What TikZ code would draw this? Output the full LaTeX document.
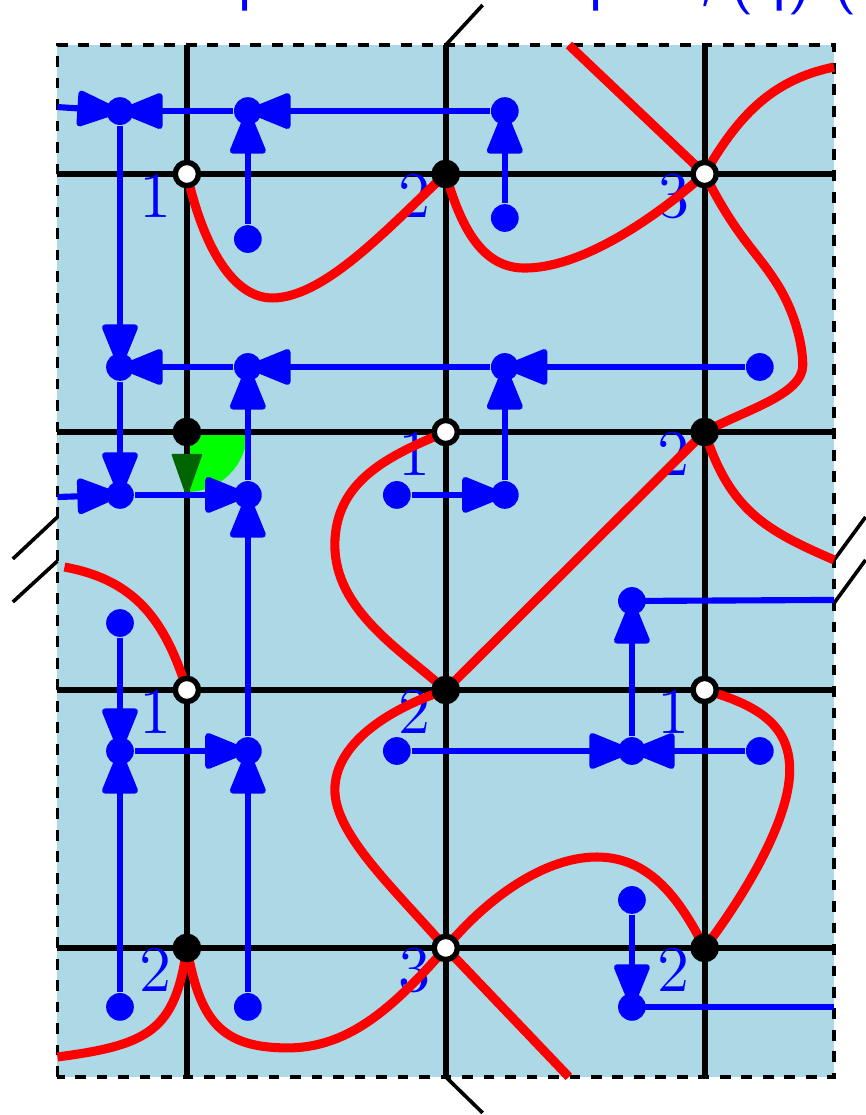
\documentclass[tikz,border=0pt]{standalone}
\usetikzlibrary{arrows.meta}
\definecolor{paneblue}{HTML}{ADD8E6}
\definecolor{darkgreen}{HTML}{006400}
\pgfdeclarelayer{bg}
\pgfsetlayers{bg,main}
\tikzset{
  critmin/.style={circle,draw=black,fill=black,line width=1.2pt,inner sep=0pt,minimum size=0.18cm},
  critsad/.style={circle,draw=black,fill=white,line width=1.2pt,inner sep=0pt,minimum size=0.18cm},
  bluedot/.style={circle,fill=blue,inner sep=0pt,minimum size=0.215cm},
  bluearc/.style={blue,line width=1.35pt},
  redarc/.style={red,line width=2pt},
  gridline/.style={black,line width=1.35pt},
  cutmark/.style={black,line width=0.8pt},
  idx/.style={blue,font=\fontsize{14.4}{15}\selectfont,inner sep=0pt,xshift=-0.24cm,yshift=-0.171cm},
  toptext/.style={blue,font=\fontsize{14.4}{15}\selectfont\sffamily,inner sep=0pt,anchor=base west}
}
\begin{document}
\begin{tikzpicture}[x=1.0035cm,>={Triangle[round,length=10.6pt,width=8.2pt]}]
  \useasboundingbox (-1.444,-1.295) rectangle (5.243,7.349);

  % Critical points on the grid
  \node[critsad] (a1) at (0,6) {};
  \node[critmin] (a2) at (2,6) {};
  \node[critsad] (a3) at (4,6) {};
  \node[critmin] (b1) at (0,4) {};
  \node[critsad] (b2) at (2,4) {};
  \node[critmin] (b3) at (4,4) {};
  \node[critsad] (c1) at (0,2) {};
  \node[critmin] (c2) at (2,2) {};
  \node[critsad] (c3) at (4,2) {};
  \node[critmin] (d1) at (0,0) {};
  \node[critsad] (d2) at (2,0) {};
  \node[critmin] (d3) at (4,0) {};

  % Blue points
  \foreach \name/\x/\y in {f1/-0.517/6.488,f2/0.471/6.488,f3/2.456/6.488,g1/0.471/5.496,g2/2.456/5.659,
      h1/-0.517/4.504,h2/0.471/4.504,h3/2.456/4.504,h4/4.426/4.504,
      i1/-0.517/3.512,i2/0.471/3.512,i3/1.622/3.512,i4/2.456/3.512,
      j1/-0.517/2.519,j2/3.438/2.69,
      k1/-0.517/1.527,k2/0.471/1.527,k3/1.622/1.527,k4/3.438/1.527,k5/4.426/1.527,
      m1/3.438/0.372,n1/-0.517/-0.457,n2/0.471/-0.457,n3/3.438/-0.457}
    \node[bluedot] (\name) at (\x,\y) {};

  % Free ends on the frame
  \coordinate (top1) at (2,7);
  \coordinate (top2) at (2.285,7.31);
  \coordinate (bot1) at (2,-1);
  \coordinate (bot2) at (2.285,-1.279);
  \coordinate (lft1) at (-1,3.341);
  \coordinate (lft2) at (-1.345,3.016);
  \coordinate (lft3) at (-1,3.0);
  \coordinate (lft4) at (-1.345,2.682);
  \coordinate (rgt1) at (5,3.008);
  \coordinate (rgt2) at (5.243,3.341);
  \coordinate (rgt3) at (5,2.674);
  \coordinate (rgt4) at (5.243,3.008);
  \coordinate (inf) at (-1,6.519);
  \coordinate (ing) at (-1,3.496);
  \coordinate (outj) at (5,2.698);
  \coordinate (outn) at (5,-0.457);
  \coordinate (redtop) at (2.951,7);
  \coordinate (redbot) at (2.951,-1);
  \coordinate (redr1) at (5,6.829);
  \coordinate (redr2) at (5,3.008);
  \coordinate (redl1) at (-0.946,2.953);
  \coordinate (redl2) at (-1,-0.845);
  \coordinate (treetop) at (0,3.82);
  \coordinate (treetip) at (0,3.5);

  \begin{pgfonlayer}{bg}
    % Pane and sector
    \fill[paneblue] (-1,-1) rectangle (5,7);
    \fill[green] (b1.center) -- ++(0.465,0) arc (0:-90:0.465) -- cycle;

    % Grid lines
    \draw[gridline] (-1,0) -- (5,0);
    \draw[gridline] (-1,2) -- (5,2);
    \draw[gridline] (-1,4) -- (5,4);
    \draw[gridline] (-1,6) -- (5,6);
    \draw[gridline] (0,-1) -- (0,7);
    \draw[gridline] (top1) -- (bot1);
    \draw[gridline] (4,-1) -- (4,7);
    \draw[black,line width=0.8pt,dash pattern=on 2.37pt off 2.37pt] (-1,-1) rectangle (5,7);

    % Cut marks
    \draw[cutmark] (top1) -- (top2);
    \draw[cutmark] (bot1) -- (bot2);
    \draw[cutmark] (lft1) -- (lft2);
    \draw[cutmark] (lft3) -- (lft4);
    \draw[cutmark] (rgt1) -- (rgt2);
    \draw[cutmark] (rgt3) -- (rgt4);

    % Indices
    \node[idx] (la1) at (a1) {1};
    \node[idx] (la2) at (a2) {2};
    \node[idx] (la3) at (a3) {3};
    \node[idx] (lb2) at (b2) {1};
    \node[idx] (lb3) at (b3) {2};
    \node[idx] (lc1) at (c1) {1};
    \node[idx] (lc2) at (c2) {2};
    \node[idx] (lc3) at (c3) {1};
    \node[idx] (ld1) at (d1) {2};
    \node[idx] (ld2) at (d2) {3};
    \node[idx] (ld3) at (d3) {2};

    % Cut off line above the frame
    \node[toptext] (tt1) at (0.38,7.359) {p};
    \node[toptext] (tt2) at (2.51,7.359) {o};
    \node[toptext] (tt3) at (3.095,7.359) {p};
    \node[toptext] (tt4) at (3.94,7.359) {,};
    \node[toptext] (tt5) at (4.186,7.359) {(q)};
    \node[toptext] (tt6) at (4.984,7.359) {(};

    % Red curves
    \draw[redarc] (a1.center) .. controls (0.124,5.45) and (0.349,5.039) .. (0.659,5.039)
      .. controls (1.07,5.039) and (1.574,5.605) .. (a2.center);
    \draw[redarc] (a2.center) .. controls (2.132,5.527) and (2.31,5.271) .. (2.61,5.271)
      .. controls (3.035,5.271) and (3.58,5.628) .. (a3.center);
    \draw[redarc] (redtop) -- (a3.center);
    \draw[redarc] (a3.center) .. controls (4.24,6.419) and (4.5,6.729) .. (redr1);
    \draw[redarc] (a3.center) .. controls (4.235,5.527) and (4.39,5.411) .. (4.54,5.178)
      .. controls (4.696,4.946) and (4.758,4.674) .. (4.758,4.519)
      .. controls (4.758,4.287) and (4.31,4.171) .. (b3.center);
    \draw[redarc] (b3.center) -- (c2.center);
    \draw[redarc] (b3.center) .. controls (4.195,3.395) and (4.465,3.24) .. (redr2);
    \draw[redarc] (b2.center) .. controls (1.574,3.822) and (1.143,3.628) .. (1.143,3.124)
      .. controls (1.143,2.62) and (1.651,2.31) .. (c2.center);
    \draw[redarc] (c2.center) .. controls (1.535,1.845) and (1.143,1.574) .. (1.143,1.225)
      .. controls (1.143,0.876) and (1.612,0.45) .. (d2.center);
    \draw[redarc] (d2.center) -- (redbot);
    \draw[redarc] (d2.center) .. controls (2.271,0.333) and (2.726,0.705) .. (3.167,0.705)
      .. controls (3.58,0.705) and (3.81,0.372) .. (d3.center);
    \draw[redarc] (c3.center) .. controls (4.41,1.884) and (4.657,1.729) .. (4.657,1.38)
      .. controls (4.657,0.992) and (4.31,0.411) .. (d3.center);
    \draw[redarc] (d2.center) .. controls (1.612,-0.442) and (1.264,-0.775) .. (0.78,-0.775)
      .. controls (0.256,-0.775) and (0.10,-0.558) .. (d1.center);
    \draw[redarc] (d1.center) .. controls (-0.09,-0.636) and (-0.287,-0.752) .. (redl2);
    \draw[redarc] (c1.center) .. controls (-0.17,2.543) and (-0.40,2.853) .. (redl1);

    % Dark green tip on the grid line
    \draw[darkgreen,line width=0.4pt,-{Triangle[round,length=9.8pt,width=6.8pt]}] (treetop) -- (treetip);

    % Blue connectors
    \foreach \a/\b in {inf/f1,f2/f1,f3/f2,g1/f2,g2/f3,f1/h1,h2/h1,h3/h2,h4/h3,h1/i1,
        ing/i1,i1/i2,i2/h2,k2/i2,i3/i4,i4/h3,j1/k1,n1/k1,k1/k2,n2/k2,k3/k4,k5/k4,k4/j2,m1/n3}
      \draw[bluearc,->] (\a) -- (\b.center);
    \draw[bluearc] (j2.center) -- (outj);
    \draw[bluearc] (n3.center) -- (outn);
  \end{pgfonlayer}
\end{tikzpicture}
\end{document}
